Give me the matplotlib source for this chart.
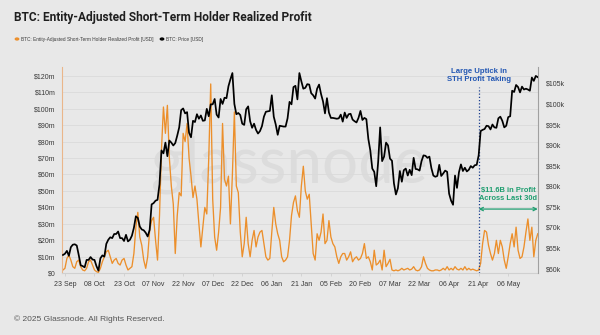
import numpy as np
import pandas as pd
import matplotlib
matplotlib.use("Agg")
import matplotlib.pyplot as plt
import matplotlib.dates as mdates
from matplotlib.ticker import FixedLocator, FuncFormatter

# ---- data -------------------------------------------------------------
start_date = "2024-09-22"

# BTC price, thousands of USD, daily
price_k = [
    # Sep 22-30
    63.3, 63.6, 64.3, 63.1, 65.2, 65.8, 65.9, 65.6, 63.3,
    # Oct
    60.8, 60.6, 60.3, 62.1, 62.1, 62.8, 62.2, 62.1, 60.6, 59.5,
    62.5, 63.2, 62.9, 66.0, 67.0, 67.6, 67.4, 68.4, 68.4, 69.0,
    67.4, 67.4, 66.7, 68.2, 66.6, 67.0, 68.0, 69.9, 72.7, 72.3, 70.2,
    # Nov
    69.5, 69.3, 68.7, 67.8, 69.4, 75.6, 75.9, 76.5, 76.7, 80.5,
    88.7, 88.0, 90.6, 87.3, 91.1, 90.6, 89.9, 90.5, 92.3, 94.3,
    98.5, 98.9, 97.7, 98.0, 93.0, 91.9, 95.9, 95.6, 97.5, 96.4,
    # Dec
    97.2, 95.9, 96.0, 98.8, 97.0, 99.9, 99.9, 101.2, 97.4, 96.7,
    101.2, 100.0, 101.5, 101.4, 104.3, 106.0, 107.5, 100.0, 97.5, 97.8,
    97.3, 95.2, 94.9, 98.7, 99.4, 95.8, 94.2, 95.2, 93.7, 92.8, 93.4,
    # Jan
    94.6, 96.9, 98.1, 98.2, 98.3, 102.1, 96.9, 95.0, 92.5, 94.7,
    94.6, 94.5, 94.5, 96.5, 100.5, 99.9, 104.1, 104.4, 101.1, 107.5,
    105.5, 103.7, 103.9, 104.8, 104.7, 102.6, 102.1, 101.3, 103.7, 104.7, 102.4,
    # Feb
    100.6, 97.7, 101.4, 97.9, 96.6, 96.6, 96.5, 96.4, 96.5, 97.4,
    95.7, 97.9, 96.6, 97.5, 97.6, 96.2, 95.8, 95.5, 96.6, 98.3,
    96.1, 96.6, 96.3, 91.5, 88.7, 84.3, 83.5, 80.0,
    # Mar
    86.0, 94.3, 86.1, 87.2, 90.6, 89.9, 86.7, 86.2, 80.7, 78.0,
    79.5, 83.7, 81.1, 83.9, 84.3, 82.6, 84.0, 82.7, 86.9, 84.2,
    84.1, 83.8, 86.1, 87.5, 87.4, 86.9, 87.2, 84.4, 82.6, 82.3, 82.5,
    # Apr
    85.2, 82.5, 83.1, 83.8, 83.5, 78.2, 76.5, 75.5, 82.6, 79.6,
    83.4, 85.3, 83.7, 84.5, 83.6, 84.0, 84.9, 84.5, 85.1, 85.2,
    87.5, 93.4, 93.7, 93.9, 94.7, 94.6, 93.8, 95.0, 94.3, 94.2,
    # May 1-21
    96.5, 96.9, 95.9, 94.3, 94.7, 96.8, 97.0, 103.2, 102.9, 104.6,
    104.1, 102.8, 104.2, 103.5, 103.7, 103.5, 103.2, 106.4, 105.6, 106.8, 106.5,
]

# Entity-adjusted STH realized profit, millions of USD, daily
profit_m = [
    2, 3, 9, 11, 8, 4, 3, 7, 8, 4, 2,
    1.5, 3, 7, 8, 5, 2, 1, 0.5, 3, 7,
    10, 13, 14, 10, 6, 8, 9, 6, 5, 8,
    9, 5, 2, 3, 4, 12, 28, 37, 22, 17,
    8, 3, 10, 26, 32, 34, 20, 8, 35, 75,
    101, 85, 102, 70, 53, 42, 12, 35, 49, 47,
    85, 80, 91, 70, 59, 46, 53, 45, 30, 16,
    28, 40, 36, 70, 115, 45, 22, 14, 25, 40,
    91, 57, 53, 59, 30, 60, 98, 53, 49, 25,
    10, 18, 34, 18, 10, 20, 26, 16, 22, 25,
    26, 18, 10, 8, 9, 25, 40, 30, 24, 20,
    10, 7, 8, 10, 20, 35, 43, 47, 38, 34,
    53, 65, 50, 45, 48, 30, 12, 8, 24, 20,
    25, 36, 18, 20, 32, 22, 18, 16, 10, 6,
    10, 12, 12, 8, 10, 13, 7, 9, 10, 8,
    9, 12, 18, 9, 10, 7, 2, 14, 5, 6,
    8, 2, 14, 4, 6, 8.5, 2, 1.5, 2, 1.5,
    2, 3, 2, 2.5, 3, 2, 2.5, 4, 2, 1.5,
    2, 4, 10, 6, 3, 2, 1.5, 1.5, 2, 2,
    1.5, 2, 3, 2, 4, 2, 3, 2, 4, 2.5,
    2, 3, 2, 4, 2, 3, 2, 2.5, 2, 1.5,
    2, 6, 18, 26, 25, 17, 12, 8, 12, 20,
    12, 20, 16, 8, 3, 10, 18, 24, 16, 28,
    14, 9, 10, 16, 25, 33, 20, 28, 10, 20, 24,
]

x_tick_dates = pd.date_range("2024-09-23", periods=16, freq="15D")
left_ticks_m = list(range(0, 121, 10))
right_ticks_k = list(range(60, 106, 5))

title = "BTC: Entity-Adjusted Short-Term Holder Realized Profit"
legend_profit = "BTC: Entity-Adjusted Short-Term Holder Realized Profit [USD]"
legend_price = "BTC: Price [USD]"
uptick_date = "2025-04-21"
window_end = "2025-05-21"

dates_price = pd.date_range(start_date, periods=len(price_k), freq="D")
dates_profit = pd.date_range(start_date, periods=len(profit_m), freq="D")

# ---- style ------------------------------------------------------------
BG = "#e8e8e8"
ORANGE = "#ec8f2b"
BLUE = "#2357b3"
GREEN = "#1f9e70"
TXT = "#3a3a3a"
plt.rcParams["font.family"] = ["Liberation Sans", "DejaVu Sans"]

fig = plt.figure(figsize=(6, 3.35), dpi=100, facecolor=BG)
ax = fig.add_axes([0.1033, 0.1843, 0.7933, 0.6157])
ax.set_facecolor(BG)
ax2 = ax.twinx()

# watermark
ax.text(289 / 600, 1 - 183 / 335, "glassnode", transform=fig.transFigure,
        ha="center", va="baseline", fontsize=46, color="#dcdcdc",
        family="Lato", zorder=0.5)

ax.plot(dates_profit, profit_m, color=ORANGE, lw=0.95, zorder=2)
ax2.plot(dates_price, price_k, color="black", lw=1.25, zorder=3)

x0 = pd.Timestamp("2024-09-23") - pd.Timedelta(days=1.5)
x1 = pd.Timestamp("2024-09-23") + pd.Timedelta(days=240.1)
ax.set_xlim(x0, x1)
ax.set_ylim(0, 125.3)
ax2.set_ylim(58.86, 108.97)

ax.yaxis.set_major_locator(FixedLocator(left_ticks_m))
ax.yaxis.set_major_formatter(FuncFormatter(lambda v, p: "$0" if v == 0 else f"${v:.0f}m"))
ax2.yaxis.set_major_locator(FixedLocator(right_ticks_k))
ax2.yaxis.set_major_formatter(FuncFormatter(lambda v, p: f"${v:.0f}k"))
ax.xaxis.set_major_locator(FixedLocator(mdates.date2num(x_tick_dates)))
ax.xaxis.set_major_formatter(mdates.DateFormatter("%d %b"))

ax.grid(axis="y", color="#dadada", lw=0.6)
ax.set_axisbelow(True)

for a in (ax, ax2):
    a.spines["top"].set_visible(False)
ax.spines["left"].set_color("#eab68a")
ax.spines["left"].set_linewidth(0.8)
ax.spines["right"].set_visible(False)
ax.spines["bottom"].set_color("#d0d0d0")
ax.spines["bottom"].set_linewidth(0.8)
ax2.spines["left"].set_visible(False)
ax2.spines["bottom"].set_visible(False)
ax2.spines["right"].set_color("#a0a0a0")
ax2.spines["right"].set_linewidth(0.8)

ax.tick_params(axis="y", length=0, pad=4.5, labelsize=5, labelcolor=TXT)
ax2.tick_params(axis="y", length=0, pad=6, labelsize=5, labelcolor=TXT)
ax.tick_params(axis="x", length=2.5, width=0.6, color="#cfcfcf", pad=3,
               labelsize=5, labelcolor=TXT)

# annotations
up = pd.Timestamp(uptick_date)
end = pd.Timestamp(window_end)
ax.plot([up, up], [0, 113.3], color="#1c3f8f", lw=0.9, ls=(0, (1, 1.6)), zorder=4)
ax.text(up, 120.2, "Large Uptick in\nSTH Profit Taking", ha="center", va="center",
        fontsize=5.6, fontweight="bold", color=BLUE, linespacing=1.15, zorder=5)
ax.text(up + (end - up) / 2, 47.9, "$11.6B in Profit\nAcross Last 30d", ha="center",
        va="center", fontsize=5.4, fontweight="bold", color=GREEN, linespacing=1.15, zorder=5)
ax.annotate("", xy=(end, 39), xytext=(up, 39),
            arrowprops=dict(arrowstyle="<->", color=GREEN, lw=0.9,
                            shrinkA=0, shrinkB=0, mutation_scale=6), zorder=5)

# header / legend / footer
fig.text(14 / 600, 1 - 17 / 335, title, ha="left", va="center", fontsize=8.6,
         color="#1f1f1f", family=["Roboto", "DejaVu Sans"], fontweight="bold")
fig.patches.append(plt.Circle((17 / 600, 1 - 39 / 335), 0.0028, transform=fig.transFigure,
                              color=ORANGE, figure=fig))
fig.text(21 / 600, 1 - 39 / 335, legend_profit, ha="left", va="center",
         fontsize=3.4, color=TXT)
fig.patches.append(plt.Circle((162 / 600, 1 - 39 / 335), 0.0028, transform=fig.transFigure,
                              color="black", figure=fig))
fig.text(166 / 600, 1 - 39 / 335, legend_price, ha="left", va="center",
         fontsize=3.4, color=TXT)
fig.text(14 / 600, 1 - 319 / 335, "\u00a9 2025 Glassnode. All Rights Reserved.",
         ha="left", va="center", fontsize=6, color="#555555")

fig.savefig("out.png", dpi=100, facecolor=BG)
